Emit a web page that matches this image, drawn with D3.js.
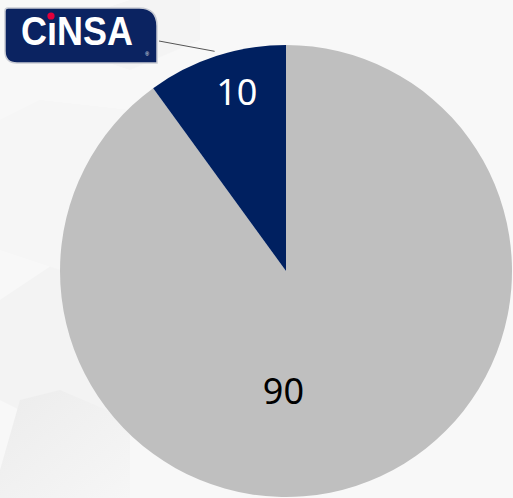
<!DOCTYPE html>
<html>
<head>
<meta charset="utf-8">
<script src="https://cdn.jsdelivr.net/npm/d3@7"></script>
<style>
html,body{margin:0;padding:0;background:#f8f8f8;}
svg{display:block;}
</style>
</head>
<body>
<svg id="chart" width="513" height="498"></svg>
<script>
// ---- data ----
const categories = ["Otros", "CINSA"];
const values = [90, 10];
const labels = ["90", "10"];
const colors = ["#BFBFBF", "#002060"];
const labelColors = ["#000000", "#ffffff"];

// ---- layout (kept separate from data) ----
const W = 513, H = 498;
const cx = 286, cy = 271, R = 226;
const labelRadius = [0.55 * R, 0.82 * R];
const labelNudge = [[-41, 2], [8, -3]];

const svg = d3.select("#chart");

// faint background geometry
const bg = svg.append("g");
bg.append("rect").attr("width", W).attr("height", H).attr("fill", "#f8f8f8");
const grad = svg.append("defs").append("linearGradient").attr("id", "g1")
  .attr("x1", 0).attr("y1", 0).attr("x2", 1).attr("y2", 1);
grad.append("stop").attr("offset", "0%").attr("stop-color", "#ececec");
grad.append("stop").attr("offset", "100%").attr("stop-color", "#f6f6f6");
const shapes = [
  [[0,300],[60,260],[130,290],[130,400],[60,430],[0,400]],
  [[0,470],[20,400],[60,390],[130,420],[130,498],[0,498]],
  [[70,20],[130,0],[200,0],[200,40],[130,70],[70,50]],
  [[0,120],[40,100],[130,110],[130,250],[60,270],[0,250]]
];
const fills = ["#f3f3f3", "url(#g1)", "#f4f4f4", "#f6f6f6"];
bg.selectAll("polygon").data(shapes).join("polygon")
  .attr("points", d => d.map(p => p.join(",")).join(" "))
  .attr("fill", (d, i) => fills[i]);

// ---- pie ----
const pie = d3.pie().sort(null).value(d => d)(values);
const arc = d3.arc().innerRadius(0).outerRadius(R);
const g = svg.append("g").attr("transform", `translate(${cx},${cy})`);
g.selectAll("path").data(pie).join("path")
  .attr("d", arc)
  .attr("fill", (d, i) => colors[i]);

g.selectAll("text").data(pie).join("text")
  .attr("transform", (d, i) => {
    const c = d3.arc().innerRadius(labelRadius[i]).outerRadius(labelRadius[i]).centroid(d);
    return `translate(${c[0] + labelNudge[i][0]},${c[1] + labelNudge[i][1]})`;
  })
  .attr("text-anchor", "middle")
  .attr("dy", "0.36em")
  .attr("font-family", "'Noto Sans', 'Open Sans', sans-serif")
  .attr("font-size", 36)
  .attr("fill", (d, i) => labelColors[i])
  .text((d, i) => labels[i]);

// ---- leader line from logo to small slice ----
const small = pie[1];
const edge = d3.arc().innerRadius(R + 5).outerRadius(R + 5).centroid(small);
svg.append("line")
  .attr("x1", 159).attr("y1", 41)
  .attr("x2", cx + edge[0]).attr("y2", cy + edge[1])
  .attr("stroke", "#555").attr("stroke-width", 1);

// ---- logo ----
const logo = svg.append("g");
const bx = 5, by = 8, bw = 152, bh = 55;
logo.append("path")
  .attr("d", `M${bx+3},${by} H${bx+bw-18} Q${bx+bw},${by} ${bx+bw},${by+18} V${by+bh} H${bx+12} Q${bx},${by+bh} ${bx},${by+bh-12} V${by+3} Q${bx},${by} ${bx+3},${by} Z`)
  .attr("fill", "#0b2361")
  .attr("stroke", "#c9ccd4").attr("stroke-width", 1.5);
logo.append("text")
  .attr("transform", "translate(21,45) scale(1,1.15)")
  .attr("font-family", "'Liberation Sans', Arial, sans-serif")
  .attr("font-weight", "bold")
  .attr("font-size", 36)
  .attr("fill", "#ffffff")
  .text("C\u0131NSA");
logo.append("circle").attr("cx", 51).attr("cy", 16).attr("r", 3.6).attr("fill", "#e4003b");
logo.append("text")
  .attr("x", 147).attr("y", 56)
  .attr("font-family", "'Liberation Sans', Arial, sans-serif")
  .attr("font-size", 5).attr("fill", "#ffffff").attr("text-anchor", "middle")
  .text("\u00AE");
</script>
</body>
</html>
